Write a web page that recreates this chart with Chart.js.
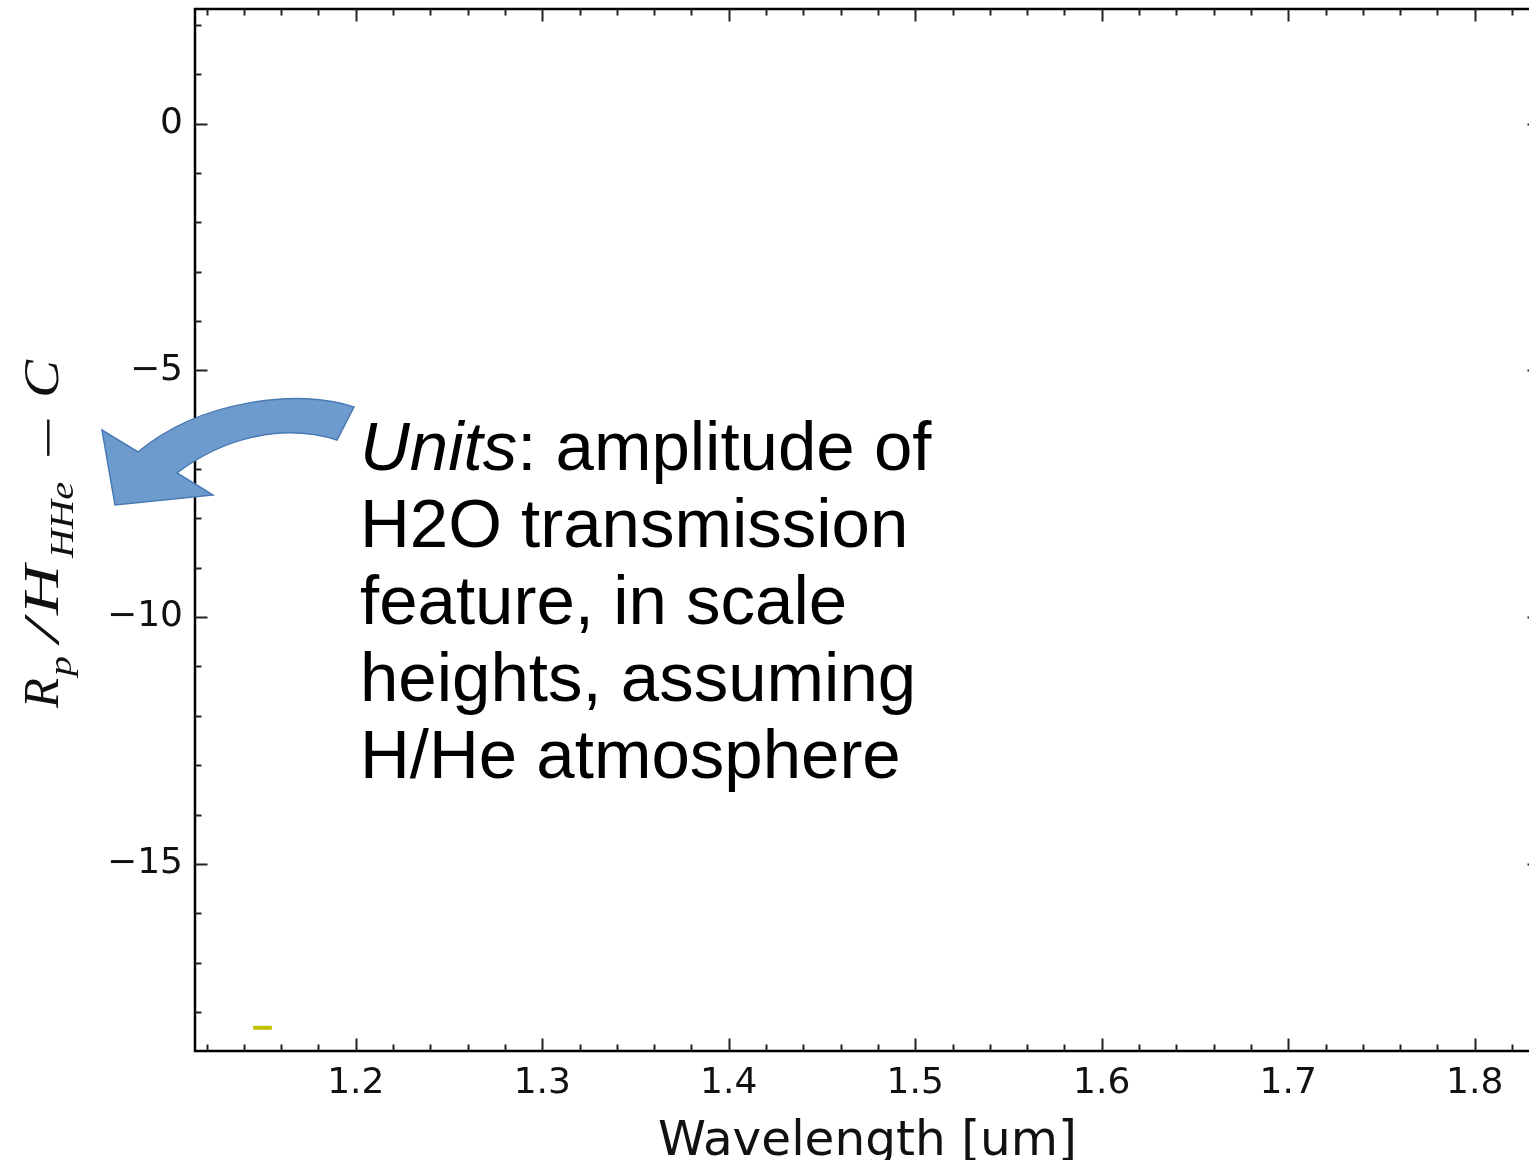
<!DOCTYPE html>
<html lang="en">
<head>
<meta charset="utf-8">
<title>Rp/H_HHe vs wavelength</title>
<script src="https://cdn.jsdelivr.net/npm/chart.js@4/dist/chart.umd.min.js"></script>
<style>
  html, body { margin: 0; padding: 0; background: #fff; }
  body { width: 1529px; height: 1160px; overflow: hidden; position: relative; }
  #wrap { position: absolute; left: 0; top: 0; width: 1560px; height: 1160px; }
  #seta { position: absolute; left: 0; top: 0; pointer-events: none; }
  #nota {
    position: absolute; left: 360px; top: 408px;
    font-family: "Liberation Sans", Arial, sans-serif;
    font-size: 69px; line-height: 77px; color: #000; white-space: nowrap;
  }
</style>
</head>
<body>
<div id="wrap"><canvas id="grafico" width="1560" height="1160"></canvas></div>

<!-- seta curva da anotação -->
<svg id="seta" width="1529" height="1160">
  <path d="M 354,407 C 300,388 200,400 138,452 L 102,430 L 115,505 L 213,495 L 177,473 C 220,440 280,422 337,440 Z"
        fill="#6e9bcd" stroke="#4a7bb5" stroke-width="1.5" stroke-linejoin="miter"/>
</svg>

<div id="nota"><i>Units</i>: amplitude of<br>H2O transmission<br>feature, in scale<br>heights, assuming<br>H/He atmosphere</div>

<script>
// dados
const comprimento = [1.145, 1.155];   // um
const amplitude   = [-18.32, -18.32];
const xTicks = [1.2, 1.3, 1.4, 1.5, 1.6, 1.7, 1.8];
const yTicks = [0, -5, -10, -15];
const xPassoMenor = 0.02;
const yPassoMenor = 1;
const xMin = 1.1138, xMax = 1.835;
const yMin = -18.79, yMax = 2.32;

const fonteTick = { family: '"DejaVu Sans", sans-serif', size: 36 };

// moldura com ticks para dentro (estilo matplotlib clássico) + títulos dos eixos
const moldura = {
  id: "moldura",
  afterDraw(chart) {
    const { ctx, chartArea: a, scales: { x, y } } = chart;
    ctx.save();
    ctx.strokeStyle = "#000";
    ctx.lineWidth = 2.5;
    ctx.strokeRect(a.left, a.top, a.right - a.left, a.bottom - a.top);

    ctx.strokeStyle = "#222";
    ctx.lineWidth = 2;
    const ehMaior = (v, passo) => Math.abs(v / passo - Math.round(v / passo)) < 1e-6;

    ctx.beginPath();
    for (let v = Math.ceil(xMin / xPassoMenor) * xPassoMenor; v <= xMax; v += xPassoMenor) {
      const px = Math.round(x.getPixelForValue(v)) + 0.5;
      const len = ehMaior(v, 0.1) ? 12.5 : 6.5;
      ctx.moveTo(px, a.bottom); ctx.lineTo(px, a.bottom - len);
      ctx.moveTo(px, a.top);    ctx.lineTo(px, a.top + len);
    }
    for (let v = Math.ceil(yMin); v <= yMax; v += yPassoMenor) {
      const py = Math.round(y.getPixelForValue(v)) + 0.5;
      const len = ehMaior(v, 5) ? 12.5 : 6.5;
      ctx.moveTo(a.left, py);  ctx.lineTo(a.left + len, py);
      ctx.moveTo(a.right, py); ctx.lineTo(a.right - len, py);
    }
    ctx.stroke();

    // título do eixo x
    ctx.fillStyle = "#111";
    ctx.font = '48.5px "DejaVu Sans", sans-serif';
    ctx.textAlign = "center";
    ctx.textBaseline = "alphabetic";
    ctx.fillText("Wavelength [um]", (a.left + a.right) / 2, 1155);

    // título do eixo y: R_p / H_HHe − C (itálico matemático), lido de baixo p/ cima
    // pos = início de cada pedaço ao longo do rótulo, w = comprimento alvo
    const partes = [
      { t: "R",      tam: 50, dy: 0,  pos: 0,   w: 30 },
      { t: "p",      tam: 32, dy: 13, pos: 32,  w: 20 },
      { t: "/",      tam: 50, dy: 0,  pos: 66,  w: 22 },
      { t: "H",      tam: 50, dy: 0,  pos: 93,  w: 50 },
      { t: "HHe",    tam: 34, dy: 15, pos: 150, w: 76 },
      { t: "\u2212", tam: 50, dy: 7,  pos: 248, w: 44, reto: true },
      { t: "C",      tam: 50, dy: 0,  pos: 310, w: 38 },
    ];
    ctx.translate(58, 708);
    ctx.rotate(-Math.PI / 2);
    ctx.textAlign = "left";
    partes.forEach(p => {
      ctx.font = `${p.reto ? "" : "italic "}${p.tam}px "Liberation Serif", serif`;
      const k = p.w / ctx.measureText(p.t).width;
      ctx.save();
      ctx.translate(p.pos, p.dy);
      ctx.scale(k, 1);
      ctx.fillText(p.t, 0, 0);
      ctx.restore();
    });
    ctx.restore();
  },
};

new Chart(document.getElementById("grafico"), {
  type: "line",
  data: {
    datasets: [{
      data: comprimento.map((c, i) => ({ x: c, y: amplitude[i] })),
      borderColor: "#c2c200",
      borderWidth: 4,
      borderCapStyle: "butt",
      pointRadius: 0,
      fill: false,
    }],
  },
  options: {
    responsive: false,
    animation: false,
    events: [],
    layout: { padding: { top: 9, right: 20, left: 0, bottom: 0 } },
    plugins: { legend: { display: false }, tooltip: { enabled: false } },
    scales: {
      x: {
        type: "linear", min: xMin, max: xMax,
        grid: { display: false, drawTicks: false },
        border: { display: false },
        afterBuildTicks: s => { s.ticks = xTicks.map(v => ({ value: v })); },
        afterFit: s => { s.height = 109; s.paddingLeft = 0; s.paddingRight = 0; },
        ticks: {
          font: fonteTick, color: "#111", padding: 11,
          maxRotation: 0, autoSkip: false,
          callback: v => v.toFixed(1),
        },
      },
      y: {
        type: "linear", min: yMin, max: yMax,
        grid: { display: false, drawTicks: false },
        border: { display: false },
        afterBuildTicks: s => { s.ticks = yTicks.map(v => ({ value: v })); },
        afterFit: s => { s.width = 195; s.paddingTop = 0; s.paddingBottom = 0; },
        ticks: {
          font: fonteTick, color: "#111", padding: 12,
          autoSkip: false,
          callback: v => (v < 0 ? "\u2212" : "") + Math.abs(v),
        },
      },
    },
  },
  plugins: [moldura],
});
</script>
</body>
</html>
